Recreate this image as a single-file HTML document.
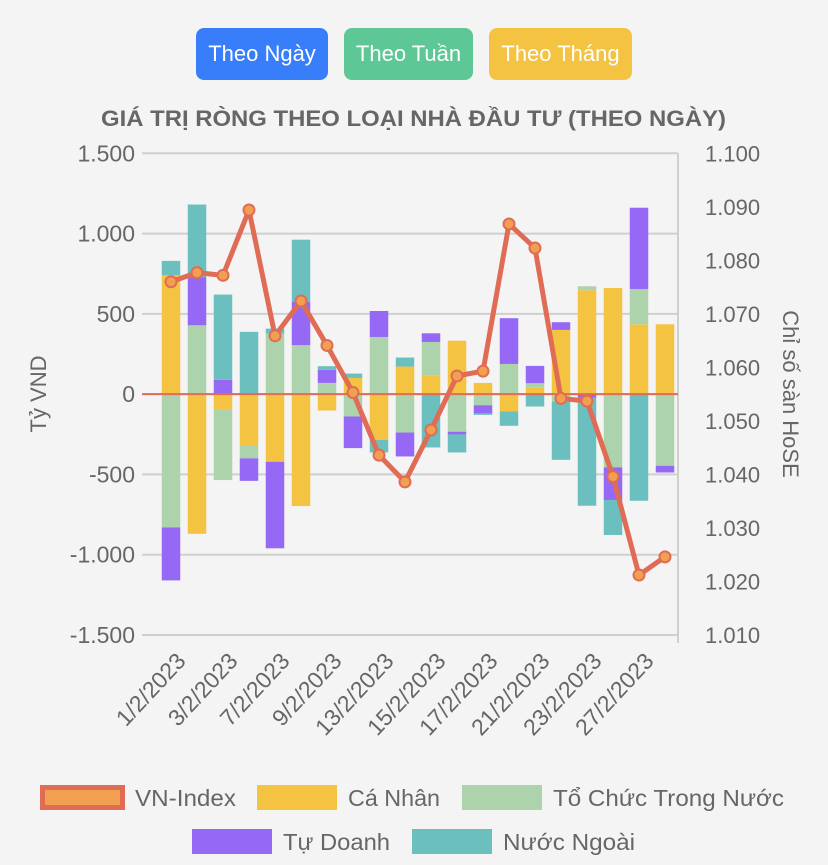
<!DOCTYPE html>
<html><head><meta charset="utf-8"><style>
body{margin:0;width:828px;height:865px;background:#f4f4f4;font-family:"Liberation Sans","DejaVu Sans",sans-serif;overflow:hidden;position:relative}
.btn{position:absolute;top:28px;height:52px;border-radius:8px;color:#fff;font-size:22px;line-height:52px;text-align:center}
svg{position:absolute;left:0;top:0}
</style></head><body>
<div class="btn" style="left:196px;width:132px;background:#387dfa">Theo Ngày</div>
<div class="btn" style="left:344px;width:129px;background:#5ec796">Theo Tuần</div>
<div class="btn" style="left:489px;width:143px;background:#f5c342">Theo Tháng</div>
<svg id="chart" width="828" height="865"></svg>
<script>
const categories=["1/2/2023","2/2/2023","3/2/2023","6/2/2023","7/2/2023","8/2/2023","9/2/2023","10/2/2023","13/2/2023","14/2/2023","15/2/2023","16/2/2023","17/2/2023","20/2/2023","21/2/2023","22/2/2023","23/2/2023","24/2/2023","27/2/2023","28/2/2023"];
const caNhan=[740,-870,-93,-317,-421,-697,-102,101,-284,172,118,333,70,-108,43,400,647,661,435,435];
const toChuc=[-830,429,-442,-83,377,305,70,-139,356,-239,207,-234,-69,188,25,-46,25,-456,220,-446];
const tuDoanh=[-330,300,89,-140,-539,271,81,-197,162,-149,54,-17,-51,285,108,48,-21,-203,506,-42];
const nuocNgoai=[90,452,531,388,31,386,23,27,-79,56,-332,-112,-9,-89,-77,-363,-674,-218,-664,0];
const vnIndex=[1.0760,1.0777,1.0772,1.0894,1.0659,1.0724,1.0641,1.0553,1.0436,1.0386,1.0483,1.0584,1.0593,1.0868,1.0823,1.0542,1.0537,1.0396,1.0212,1.0246];
const leftTicks=[1500,1000,500,0,-500,-1000,-1500];
const leftTickLabels=["1.500","1.000","500","0","-500","-1.000","-1.500"];
const rightTicks=[1.10,1.09,1.08,1.07,1.06,1.05,1.04,1.03,1.02,1.01];
const rightTickLabels=["1.100","1.090","1.080","1.070","1.060","1.050","1.040","1.030","1.020","1.010"];

const NS="http://www.w3.org/2000/svg";
const svg=document.getElementById('chart');
const X0=158,X1=678,TOP=153.3,BOT=635;
const yL=v=>TOP+(1500-v)/3000*(BOT-TOP);
const yR=v=>TOP+(1.10-v)/0.09*(BOT-TOP);
const band=(X1-X0)/categories.length;
const xC=i=>X0+band*(i+0.5);
function mk(tag,attrs,txt){const e=document.createElementNS(NS,tag);for(const k in attrs)e.setAttribute(k,attrs[k]);if(txt!=null)e.textContent=txt;svg.appendChild(e);return e;}

let t=mk('text',{x:101,y:126,'font-size':22,'font-weight':'bold',fill:'#666',textLength:625,lengthAdjust:'spacingAndGlyphs'},'GIÁ TRỊ RÒNG THEO LOẠI NHÀ ĐẦU TƯ (THEO NGÀY)');



leftTicks.forEach((v,i)=>{
  const g=mk('line',{x1:142,x2:X1,y1:yL(v),y2:yL(v),stroke:'#cfcfcf','stroke-width':2});
  
  
  const l=mk('text',{x:135,y:yL(v)+8,'text-anchor':'end','font-size':23,fill:'#666'},leftTickLabels[i]);
  
  
});
rightTicks.forEach((v,i)=>{
  const l=mk('text',{x:705,y:yR(v)+8,'font-size':22,fill:'#666'},rightTickLabels[i]);
  
  
});
let ax=mk('line',{x1:X1,x2:X1,y1:TOP,y2:BOT+8,stroke:'#cfcfcf','stroke-width':2});



let yt=mk('text',{x:0,y:0,'text-anchor':'middle','font-size':22,fill:'#666',transform:'translate(46,394) rotate(-90)'},'Tỷ VND');


let yt2=mk('text',{x:0,y:0,'text-anchor':'middle','font-size':22,fill:'#666',transform:'translate(783,394) rotate(90)'},'Chỉ số sàn HoSE');



const series=[[caNhan,'#f5c342','ca-nhan'],[toChuc,'#acd3ac','to-chuc-trong-nuoc'],[tuDoanh,'#9569f5','tu-doanh'],[nuocNgoai,'#6bbfbf','nuoc-ngoai']];
const bw=18.5;
categories.forEach((c,i)=>{
  let pos=0,neg=0;
  series.forEach(([arr,col,nm])=>{
    const v=arr[i];if(!v)return;
    let a,b;
    if(v>0){a=pos;b=pos+v;pos=b;}else{a=neg;b=neg+v;neg=b;}
    const y1=yL(Math.max(a,b)),y2=yL(Math.min(a,b));
    const r=mk('rect',{x:xC(i)-bw/2,y:y1,width:bw,height:y2-y1,fill:col});
    
    
  });
  if(i%2===0){
    let lb=mk('text',{x:0,y:0,'text-anchor':'end','font-size':23,fill:'#666',transform:`translate(${xC(i)+16},${662}) rotate(-47)`},c);
    
    
  }
});
let zl=mk('line',{x1:142,x2:X1,y1:yL(0),y2:yL(0),stroke:'#e06c55','stroke-width':2});



let pts=vnIndex.map((v,i)=>xC(i)+','+yR(v)).join(' ');
let pl=mk('polyline',{points:pts,fill:'none',stroke:'#e06c55','stroke-width':5,'stroke-linejoin':'round'});


vnIndex.forEach((v,i)=>{
  const c=mk('circle',{cx:xC(i),cy:yR(v),r:5.5,fill:'#f0a050',stroke:'#e06c55','stroke-width':2});
  
  
});

const legend=[[40,785,'#f0a050','#e06c55','VN-Index',135,101],[257,785,'#f5c342',null,'Cá Nhân',348,92],[462,785,'#acd3ac',null,'Tổ Chức Trong Nước',553,231],[192,829,'#9569f5',null,'Tự Doanh',283,107],[412,829,'#6bbfbf',null,'Nước Ngoài',503,132]];
legend.forEach(([x,y,f,s,txt,tx,tl])=>{
  const r=mk('rect',{x:s?x+2.5:x,y:s?y+2.5:y,width:80,height:s?20:25,fill:f});
  if(s){r.setAttribute('stroke',s);r.setAttribute('stroke-width',5);}
  
  
  const l=mk('text',{x:tx,y:y+21,'font-size':23,fill:'#666',textLength:tl,lengthAdjust:'spacingAndGlyphs'},txt);
  
  
});
</script>
</body></html>
